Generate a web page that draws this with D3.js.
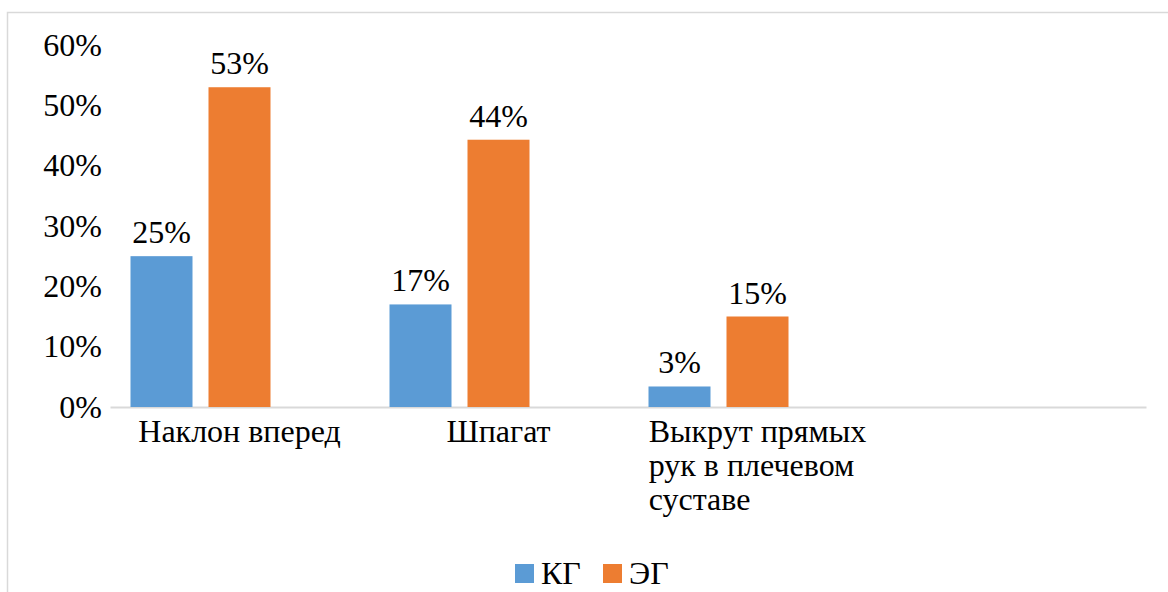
<!DOCTYPE html>
<html><head><meta charset="utf-8">
<script src="https://cdn.jsdelivr.net/npm/d3@7"></script>
<style>
html,body{margin:0;padding:0;background:#fff;}
svg{display:block;}
</style></head>
<body>
<svg id="c" width="1168" height="592" font-family="Liberation Serif"></svg>
<script>
const categories = ["Наклон вперед", "Шпагат", "Выкрут прямых рук в плечевом суставе", ""];
const seriesNames = ["КГ", "ЭГ"];
const kgValues = [0.25, 0.17, 0.034, null];
const egValues = [0.53, 0.443, 0.15, null];
const yTicks = [0, 0.1, 0.2, 0.3, 0.4, 0.5, 0.6];
const colors = ["#5B9BD5", "#ED7D31"];

const FF = "Liberation Serif";
const FS = 32;
const svg = d3.select("#c");
svg.append("rect").attr("x",7.5).attr("y",12.5).attr("width",1300).attr("height",700)
  .attr("fill","#fff").attr("stroke","#d9d9d9").attr("stroke-width",1.5);

const x0 = d3.scaleBand().domain(categories).range([110,1146]);
const x1 = d3.scaleBand().domain([0,1,2]).range([0,x0.bandwidth()])
  .paddingInner(16/78).paddingOuter(20.5/78);
const y = d3.scaleLinear().domain([0,0.6]).range([407,45]);
const fmt = d3.format(".0%");

// y axis labels
const yAxis = d3.axisLeft(y).tickValues(yTicks).tickFormat(fmt).tickSize(0).tickPadding(0);
const ya = svg.append("g").attr("transform","translate(102,0)").call(yAxis);
ya.attr("font-family",FF).attr("font-size",FS);
ya.select(".domain").remove();
ya.selectAll("text").attr("fill","#000");

// baseline
const xAxis = d3.axisBottom(x0).tickSize(0).tickFormat("");
const xa = svg.append("g").attr("transform","translate(0,407)").call(xAxis);
xa.select(".domain").attr("stroke","#d9d9d9").attr("stroke-width",2);

const series = [kgValues, egValues];
series.forEach((vals,si)=>{
  const g = svg.append("g");
  categories.forEach((c,ci)=>{
    const v = vals[ci];
    if(v==null) return;
    const bx = x0(c)+x1(si);
    g.append("rect").attr("x",bx).attr("width",x1.bandwidth())
      .attr("y",y(v)).attr("height",y(0)-y(v)).attr("fill",colors[si]);
    g.append("text").attr("x",bx+x1.bandwidth()/2).attr("y",y(v)-13)
      .attr("text-anchor","middle").attr("font-family",FF).attr("font-size",FS).attr("fill","#000").text(fmt(v));
  });
});

// category labels with wrapping
categories.forEach(c=>{
  if(!c) return;
  const t = svg.append("text").attr("font-family",FF).attr("font-size",FS).attr("fill","#000");
  const words = c.split(" ");
  let lines=[], cur=[];
  const probe = svg.append("text").attr("font-family",FF).attr("font-size",FS);
  words.forEach(w=>{
    const test = cur.concat([w]).join(" ");
    probe.text(test);
    if(probe.node().getComputedTextLength()>245 && cur.length){ lines.push(cur.join(" ")); cur=[w]; }
    else cur.push(w);
  });
  lines.push(cur.join(" "));
  probe.remove();
  lines.forEach((l,i)=>t.append("tspan").attr("x",0).attr("y",442+i*34).text(l));
  const w = t.node().getBBox().width;
  t.attr("transform",`translate(${x0(c)+x0.bandwidth()/2-w/2},0)`);
});

// legend
const lg = svg.append("g");
const legX = [515, 603];
seriesNames.forEach((s,i)=>{
  lg.append("rect").attr("x",legX[i]).attr("y",564).attr("width",19).attr("height",19).attr("fill",colors[i]);
  lg.append("text").attr("x",legX[i]+26).attr("y",584).attr("font-family",FF).attr("font-size",FS).attr("fill","#000").text(s);
});
</script>
</body></html>
